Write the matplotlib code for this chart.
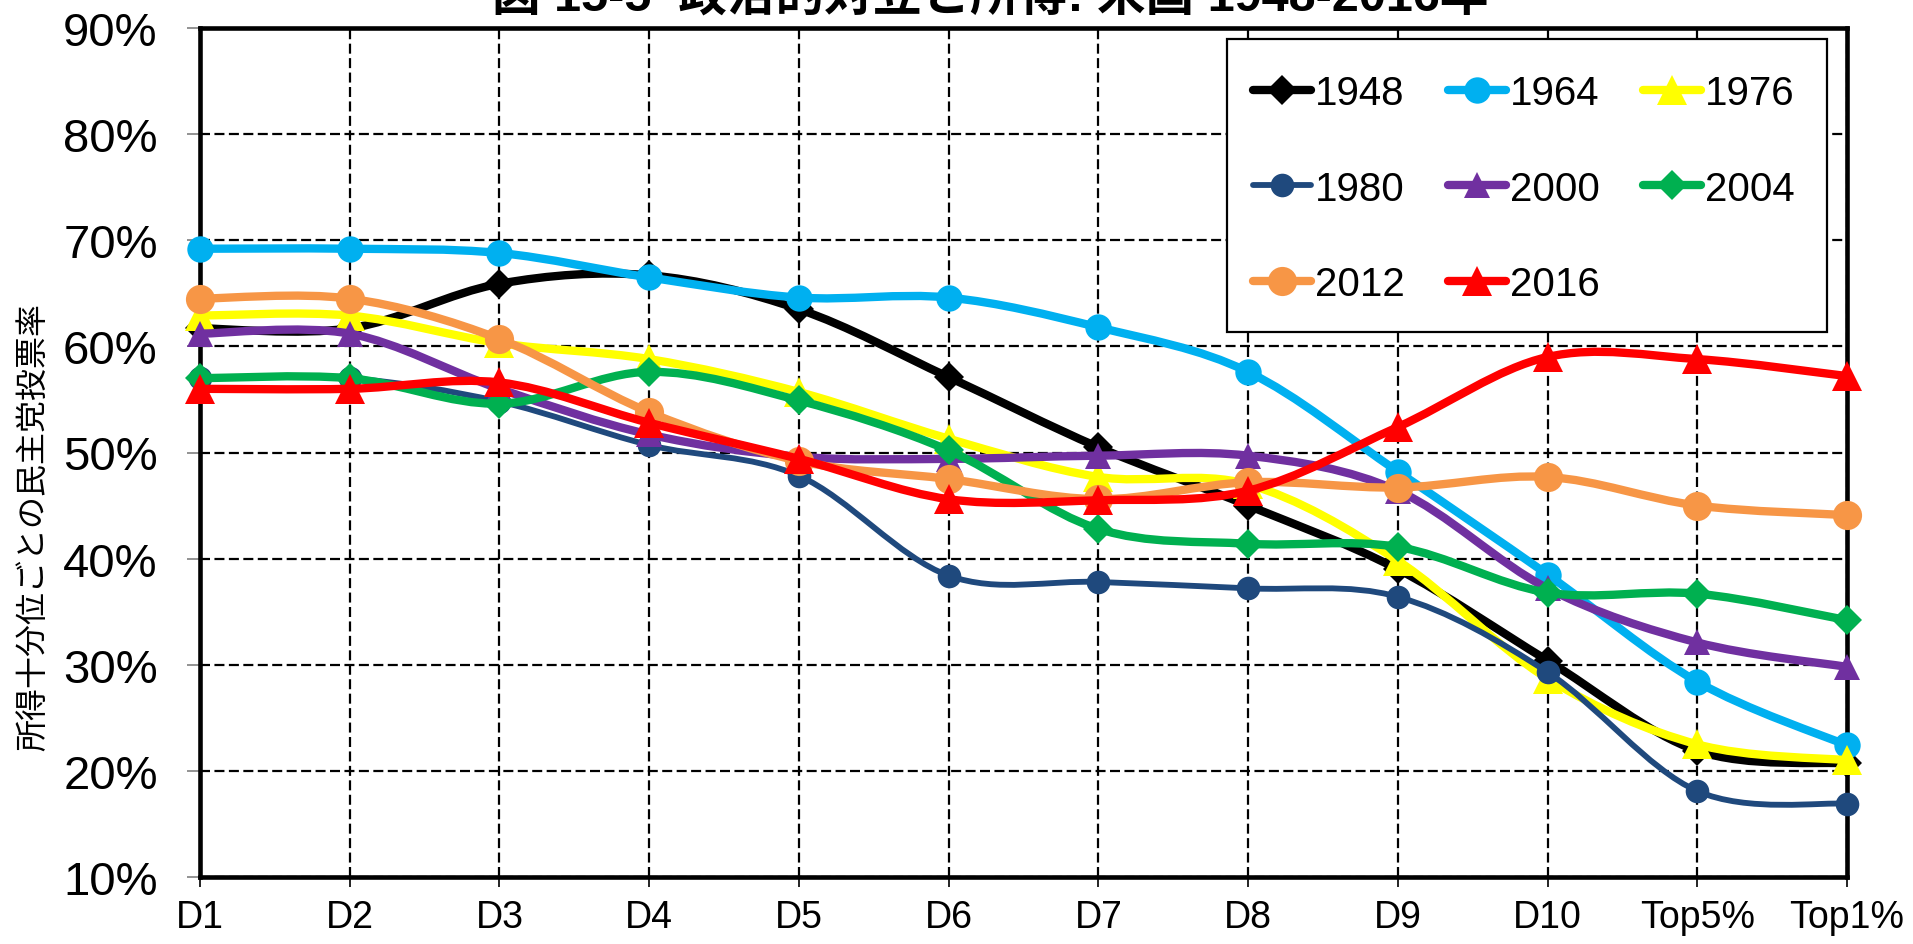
import matplotlib
matplotlib.use("Agg")
import matplotlib.pyplot as plt
from matplotlib.path import Path
from matplotlib.patches import PathPatch, Rectangle
from matplotlib.lines import Line2D
from matplotlib.ticker import FuncFormatter

# data (percent of vote for Democrats by income group)
groups = ["D1", "D2", "D3", "D4", "D5", "D6", "D7", "D8", "D9", "D10", "Top5%", "Top1%"]
years = ["1948", "1964", "1976", "1980", "2000", "2004", "2012", "2016"]
v1948 = [61.7, 61.7, 65.9, 66.7, 63.5, 57.1, 50.5, 45.0, 39.0, 30.4, 21.9, 20.7]
v1964 = [69.2, 69.2, 68.8, 66.5, 64.6, 64.6, 61.8, 57.6, 48.2, 38.5, 28.4, 22.4]
v1976 = [62.9, 62.9, 60.3, 58.8, 55.7, 51.3, 47.7, 47.0, 39.8, 28.7, 22.5, 21.0]
v1980 = [57.0, 57.0, 54.8, 50.7, 47.8, 38.4, 37.8, 37.2, 36.4, 29.3, 18.1, 16.9]
v2000 = [61.2, 61.2, 56.0, 51.7, 49.6, 49.4, 49.7, 49.7, 46.4, 37.2, 32.1, 29.8]
v2004 = [57.0, 57.0, 54.6, 57.6, 54.9, 50.2, 42.8, 41.4, 41.1, 36.8, 36.7, 34.2]
v2012 = [64.5, 64.5, 60.7, 53.8, 49.2, 47.5, 45.6, 47.2, 46.7, 47.7, 45.0, 44.1]
v2016 = [56.0, 56.0, 56.6, 52.8, 49.4, 45.6, 45.5, 46.4, 52.4, 59.0, 58.8, 57.2]
values = [v1948, v1964, v1976, v1980, v2000, v2004, v2012, v2016]

colors = ["#000000", "#00B0F0", "#FFFF00", "#1F497D", "#7030A0", "#00B050", "#F79646", "#FF0000"]
markers = ["D", "o", "^", "o", "^", "D", "o", "^"]
msizes = [15, 19, 21, 17, 19, 15.5, 21, 22]
lwidths = [6, 6, 6, 4.2, 6, 6, 6, 6]

title = "図 15-5  政治的対立と所得: 米国 1948-2016年"
ylabel = "所得十分位ごとの民主党投票率"

FONT = ["Liberation Sans", "Noto Sans CJK JP", "DejaVu Sans"]
plt.rcParams["font.family"] = FONT


def smooth_path(xs, ys):
    # excel style smoothed line: cubic bezier through the points
    pts = list(zip(xs, ys))
    n = len(pts)
    verts = [pts[0]]
    codes = [Path.MOVETO]
    for i in range(n - 1):
        p0 = pts[max(i - 1, 0)]
        p1 = pts[i]
        p2 = pts[i + 1]
        p3 = pts[min(i + 2, n - 1)]
        c1 = (p1[0] + (p2[0] - p0[0]) / 6, p1[1] + (p2[1] - p0[1]) / 6)
        c2 = (p2[0] - (p3[0] - p1[0]) / 6, p2[1] - (p3[1] - p1[1]) / 6)
        verts += [c1, c2, p2]
        codes += [Path.CURVE4] * 3
    return Path(verts, codes)


fig = plt.figure(figsize=(19.13, 9.45), dpi=100)
ax = fig.add_axes([200 / 1913, 1 - 878 / 945, 1647 / 1913, 849 / 945])

x = list(range(len(groups)))
handles = []
for i, (yr, vals) in enumerate(zip(years, values)):
    z = 3 + i
    ax.add_patch(PathPatch(smooth_path(x, vals), facecolor="none", edgecolor=colors[i],
                           lw=lwidths[i], capstyle="round", joinstyle="round", zorder=z,
                           clip_on=False))
    ax.plot(x, vals, linestyle="none", marker=markers[i], ms=msizes[i],
            color=colors[i], markeredgewidth=0, zorder=z + 0.5, clip_on=False)
    handles.append(Line2D([], [], color=colors[i], lw=lwidths[i], marker=markers[i],
                          ms=msizes[i], markeredgewidth=0, solid_capstyle="round"))

ax.set_xlim(0, len(groups) - 1)
ax.set_ylim(10, 90)
ax.set_xticks(x)
ax.set_xticklabels(groups)
ax.set_yticks(range(10, 91, 10))
ax.yaxis.set_major_formatter(FuncFormatter(lambda v, p: "%d%%" % v))

ax.tick_params(axis="y", labelsize=34, length=9.5, width=1.2, color="#808080", pad=21)
ax.tick_params(axis="x", labelsize=27, length=7, width=1.2, pad=9)

ax.grid(True, color="black", lw=1.6, linestyle=(0, (4.5, 2)))
ax.set_axisbelow(True)
for sp in ax.spines.values():
    sp.set_linewidth(3.3)
    sp.set_color("black")

# legend box (drawn separately so its size matches the original)
rect = Rectangle((1227 / 1913, 1 - 333 / 945), 600 / 1913, 293 / 945, transform=fig.transFigure,
                 facecolor="white", edgecolor="black", lw=1.6, zorder=20, clip_on=False)
ax.add_artist(rect)
order = [0, 3, 6, 1, 4, 7, 2, 5]  # row-wise filling for 3 columns
leg = ax.legend([handles[k] for k in order], [years[k] for k in order], ncol=3,
                loc="upper left", frameon=False,
                bbox_to_anchor=(1253 / 1913, 1 - 75 / 945), bbox_transform=fig.transFigure,
                borderaxespad=0, borderpad=0, fontsize=29, handlelength=1.44,
                handletextpad=0.1, columnspacing=1.07, labelspacing=1.43)
leg.set_zorder(21)

fig.text(990 / 1913, 1 - 12 / 945, title, ha="center", va="baseline", fontsize=35,
         fontweight="bold")
fig.text(33 / 1913, 1 - 527 / 945, ylabel, ha="center", va="center", rotation=90,
         fontsize=23, family=["Noto Sans CJK JP", "DejaVu Sans"])

fig.savefig("out.png", dpi=100)
